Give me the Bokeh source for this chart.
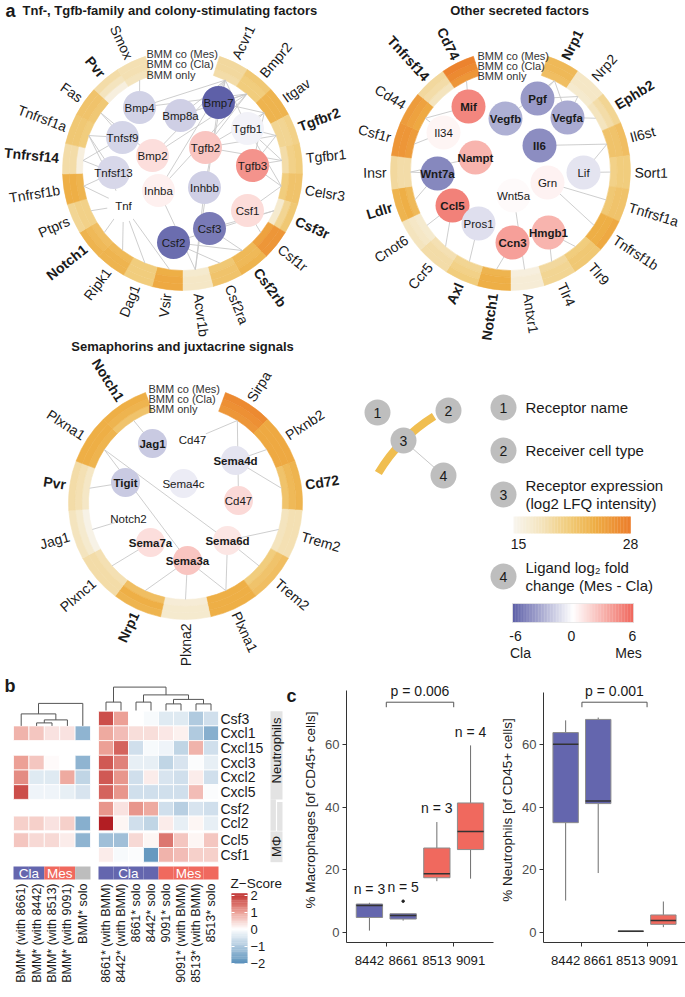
import numpy as np
from bokeh.plotting import figure
from bokeh.layouts import row, column
from bokeh.models import Range1d, FixedTicker
from bokeh.embed import file_html
from bokeh.resources import INLINE
from bokeh.core.properties import value

S = 1.0
FONT = "Liberation Sans"
INK = "#1a1a1a"

# ---------------------------------------------------------------- data: panel a
rec1 = ["Acvr1", "Bmpr2", "Itgav", "Tgfbr2", "Tgfbr1", "Celsr3", "Csf3r", "Csf1r", "Csf2rb", "Csf2ra", "Acvr1b",
        "Vsir", "Dag1", "Ripk1", "Notch1", "Ptprs", "Tnfrsf1b", "Tnfrsf14", "Tnfrsf1a", "Fas", "Pvr", "Smox"]
rec1_bold = ["Tgfbr2", "Csf3r", "Csf2rb", "Notch1", "Tnfrsf14", "Pvr"]
rec1_mes = [19.5, 21.5, 23.5, 20.5, 21, 22, 21.5, 26, 23.5, 22, 17.5, 24.5, 21, 23.5, 23.5, 20, 24, 19, 21.5, 22, 19, 18.5]
rec1_cla = [19.5, 21, 23.5, 20, 20.5, 22, 20, 26, 23, 22, 17.5, 24.5, 21, 23.5, 23, 20.5, 24, 19, 21.5, 22, 18, 18.5]
rec1_only = [19, 21, 23.5, 20, 19, 21, 17, 25, 23, 21.5, 17, 24, 21, 23, 22.5, 20.5, 23.5, 16, 21, 21.5, 16, 18]
lig1 = ["Bmp4", "Bmp8a", "Bmp7", "Tgfb1", "Tnfsf9", "Bmp2", "Tgfb2", "Tgfb3", "Tnfsf13", "Inhba", "Inhbb", "Tnf",
        "Csf1", "Csf3", "Csf2"]
lig1_x = [-43, -2, 36, 65, -60, -30, 23, 70, -69, -24, 22, -59, 65, 27, -9]
lig1_y = [63, 55, 68, 42, 33, 15, 23, 5, -2, -20, -17, -35, -40, -58, -72]
lig1_lfc = [-1.7, -1.8, -6.0, -0.5, -1.6, 1.3, 2.3, 4.3, -1.5, 0.6, -1.8, 0.0, 1.4, -5.0, -5.5]
lig1_bold = []
edges1 = [("Bmp4", "Bmpr2"), ("Bmp4", "Acvr1"), ("Bmp4", "Smox"), ("Bmp8a", "Bmpr2"), ("Bmp8a", "Acvr1"),
          ("Bmp7", "Bmpr2"), ("Bmp7", "Acvr1"), ("Bmp7", "Acvr1b"), ("Bmp7", "Itgav"), ("Bmp2", "Bmpr2"),
          ("Bmp2", "Acvr1"), ("Bmp2", "Fas"), ("Tgfb1", "Tgfbr1"), ("Tgfb1", "Tgfbr2"), ("Tgfb1", "Itgav"),
          ("Tgfb1", "Celsr3"), ("Tgfb1", "Acvr1"), ("Tgfb2", "Tgfbr1"), ("Tgfb2", "Tgfbr2"), ("Tgfb2", "Itgav"),
          ("Tgfb2", "Bmpr2"), ("Tgfb3", "Tgfbr1"), ("Tgfb3", "Tgfbr2"), ("Tgfb3", "Itgav"), ("Tgfb3", "Celsr3"),
          ("Tnfsf9", "Tnfrsf1a"), ("Tnfsf9", "Tnfrsf14"), ("Tnfsf9", "Fas"), ("Tnfsf13", "Tnfrsf1b"),
          ("Tnfsf13", "Tnfrsf14"), ("Tnfsf13", "Tnfrsf1a"), ("Inhba", "Acvr1b"), ("Inhba", "Acvr1"),
          ("Inhba", "Bmpr2"), ("Inhbb", "Acvr1b"), ("Inhbb", "Acvr1"), ("Tnf", "Tnfrsf1a"), ("Tnf", "Tnfrsf1b"),
          ("Tnf", "Ptprs"), ("Tnf", "Notch1"), ("Tnf", "Ripk1"), ("Tnf", "Dag1"), ("Tnf", "Vsir"),
          ("Csf1", "Csf1r"), ("Csf1", "Celsr3"), ("Csf3", "Csf3r"), ("Csf3", "Csf2rb"), ("Csf2", "Csf2ra"),
          ("Csf2", "Csf2rb"), ("Csf2", "Csf3r")]

rec2 = ["Nrp1", "Nrp2", "Ephb2", "Il6st", "Sort1", "Tnfrsf1a", "Tnfrsf1b", "Tlr9", "Tlr4", "Antxr1", "Notch1", "Axl",
        "Ccr5", "Cnot6", "Ldlr", "Insr", "Csf1r", "Cd44", "Tnfrsf14", "Cd74"]
rec2_bold = ["Nrp1", "Ephb2", "Notch1", "Axl", "Ldlr", "Tnfrsf14", "Cd74"]
rec2_mes = [23, 17.5, 20, 22.5, 21, 22, 24.5, 21.5, 20, 16.5, 24, 21, 19, 18, 23.5, 19.5, 26, 25.5, 19.5, 27.5]
rec2_cla = [23, 17.5, 19, 22, 21, 22, 24, 21.5, 20, 16.5, 24, 20.5, 19, 17.5, 24, 19, 26, 25, 19, 27]
rec2_only = [22.5, 17, 18, 22, 20.5, 21.5, 24, 21, 19.5, 16, 23.5, 20, 18.5, 17, 23, 19, 25.5, 24.5, 18, 26]
lig2 = ["Mif", "Vegfb", "Pgf", "Vegfa", "Il34", "Nampt", "Il6", "Lif", "Wnt7a", "Grn", "Wnt5a", "Ccl5", "Pros1",
        "Hmgb1", "Ccn3"]
lig2_x = [-42, -5, 27, 57, -67, -35, 29, 73, -73, 37, 3, -58, -32, 38, 2]
lig2_y = [64, 52, 72, 53, 38, 13, 25, -2, -3, -12, -25, -35, -53, -62, -72]
lig2_lfc = [4.8, -3.0, -3.8, -3.2, 0.4, 3.0, -4.3, -1.0, -4.5, 0.5, 0.2, 5.0, -1.2, 3.0, 3.8]
lig2_bold = ["Mif", "Vegfb", "Pgf", "Vegfa", "Nampt", "Il6", "Wnt7a", "Ccl5", "Hmgb1", "Ccn3"]
edges2 = [("Mif", "Cd74"), ("Mif", "Cd44"), ("Vegfb", "Nrp1"), ("Pgf", "Nrp1"), ("Pgf", "Nrp2"), ("Vegfa", "Nrp1"),
          ("Vegfa", "Nrp2"), ("Vegfa", "Ephb2"), ("Il34", "Csf1r"), ("Il34", "Cd44"), ("Nampt", "Insr"),
          ("Il6", "Il6st"), ("Lif", "Il6st"), ("Lif", "Sort1"), ("Wnt7a", "Ldlr"), ("Wnt7a", "Insr"),
          ("Grn", "Tnfrsf1a"), ("Grn", "Tnfrsf1b"), ("Wnt5a", "Antxr1"), ("Ccl5", "Ccr5"), ("Ccl5", "Cnot6"),
          ("Pros1", "Axl"), ("Hmgb1", "Tlr4"), ("Hmgb1", "Tlr9"), ("Ccn3", "Notch1")]

rec3 = ["Sirpa", "Plxnb2", "Cd72", "Trem2", "Trem2", "Plxna1", "Plxna2", "Nrp1", "Plxnc1", "Jag1", "Pvr", "Plxna1",
        "Notch1"]
rec3_bold = ["Cd72", "Nrp1", "Pvr", "Notch1"]
rec3_mes = [27, 24.5, 23.5, 18.5, 22.5, 24, 17, 23.5, 19, 18, 19, 24, 24]
rec3_cla = [26.5, 24.5, 23, 18.5, 22, 24, 17, 24, 19, 17, 18.5, 24, 23.5]
rec3_only = [26, 24.5, 22, 18, 21, 24, 16.5, 22.5, 18.5, 15.5, 17.5, 23.5, 22]
lig3 = ["Jag1", "Cd47", "Sema4d", "Tigit", "Sema4c", "Cd47", "Notch2", "Sema7a", "Sema6d", "Sema3a"]
lig3_x = [-33, 7, 50, -60, -2, 53, -57, -35, 42, 2]
lig3_y = [59, 63, 42, 20, 19, 2, -16, -40, -38, -58]
lig3_lfc = [-2.0, 0.0, -1.0, -2.0, -0.7, 1.5, 0.0, 1.3, 1.0, 2.3]
lig3_bold = ["Jag1", "Sema4d", "Tigit", "Sema7a", "Sema6d", "Sema3a"]
edges3 = [(0, 12), (1, 0), (2, 1), (2, 2), (3, 10), (5, 0), (6, 9), (7, 8), (9, 7), (9, 6), (9, 5), (9, 11),
          (8, 5), (8, 4), (8, 3), (8, 11)]

# ---------------------------------------------------------------- data: panel b
hm_rows = ["Csf3", "Cxcl1", "Cxcl15", "Cxcl3", "Cxcl2", "Cxcl5", "Csf2", "Ccl2", "Ccl5", "Csf1"]
left_cols = ["BMM* (with 8661)", "BMM* (with 8442)", "BMM* (with 8513)", "BMM* (with 9091)", "BMM* solo"]
left_groups = ["Cla", "Cla", "Mes", "Mes", "solo"]
left_rows = ["Cxcl1", "Cxcl3", "Cxcl2", "Cxcl5", "Ccl2", "Ccl5"]
left_vals = [[0.8, 0.6, 0.3, 0.3, -1.4],
             [1.0, 0.6, 0.05, 0.0, -1.4],
             [1.2, -0.4, -0.4, 0.9, -0.8],
             [1.8, -0.2, -0.2, -0.3, -0.5],
             [0.5, 0.5, 0.3, 0.5, -1.5],
             [0.6, 0.4, 0.4, 0.2, -1.4]]
right_cols = ["8661* (with BMM)", "8442* (with BMM)", "8661* solo", "8442* solo", "9091* solo", "9091* (with BMM)",
              "8513* (with BMM)", "8513* solo"]
right_groups = ["Cla"] * 4 + ["Mes"] * 4
right_vals = [[1.8, 1.0, 0.0, -0.1, -0.4, -0.4, -1.0, -0.6],
              [0.9, 0.7, 0.35, 0.35, 0.25, 0.15, -1.0, -1.5],
              [1.0, 1.6, -0.6, -0.1, -0.2, -0.8, 0.8, -0.6],
              [1.7, 1.3, -0.3, -0.3, -0.8, -0.5, -0.05, -0.3],
              [1.7, 1.1, -0.6, 0.2, -0.5, -0.6, 0.2, -0.6],
              [1.6, 1.1, -0.6, -0.6, -0.6, -0.6, 0.7, -0.05],
              [1.1, 0.3, 1.1, 0.9, -0.6, -0.9, -0.5, -0.6],
              [2.3, 0.1, -0.6, -0.8, 0.2, -0.3, 0.1, -0.3],
              [-1.2, -1.2, 0.4, 0.1, 1.4, 0.6, 0.1, 0.6],
              [0.2, -0.1, -0.05, -1.9, 0.8, 0.7, 0.5, 0.5]]
left_merges = [(1, 2, 1.0), (5, 3, 2.0), (0, 6, 4.0), (7, 4, 7.5)]
right_merges = [(0, 1, 2.8), (2, 3, 2.8), (4, 5, 2.2), (6, 7, 2.2), (10, 11, 3.7), (9, 12, 5.2), (8, 13, 7.8)]
neutro_rows = ["Csf3", "Cxcl1", "Cxcl15", "Cxcl3", "Cxcl2", "Cxcl5", "Csf2", "Ccl2"]
macro_rows = ["Csf2", "Ccl2", "Ccl5", "Csf1"]

# ---------------------------------------------------------------- data: panel c
strains = ["8442", "8661", "8513", "9091"]
strain_group = ["Cla", "Cla", "Mes", "Mes"]
mac_lo = [0.6, 3.8, 16.4, 17.2]
mac_q1 = [4.8, 4.3, 17.5, 26.5]
mac_med = [8.6, 5.4, 18.8, 32.3]
mac_q3 = [9.1, 6.0, 27.0, 41.4]
mac_hi = [9.5, 6.0, 35.3, 59.8]
mac_out = [[], [10.0], [], []]
mac_n = [3, 5, 3, 4]
neu_lo = [10.2, 19.0, 0.3, 1.7]
neu_q1 = [35.1, 41.2, 0.3, 2.6]
neu_med = [60.2, 42.0, 0.4, 3.8]
neu_q3 = [63.9, 68.1, 0.5, 5.6]
neu_hi = [67.8, 68.7, 0.5, 9.9]
mac_p = "p = 0.006"
neu_p = "p = 0.001"

# ---------------------------------------------------------------- helpers
GROUP_COL = {"Cla": "#6466ae", "Mes": "#f0695e", "solo": "#bdbdbd"}


def fs(px):
    return f"{px * S:.2f}px"


def hexcol(rgb):
    return "#%02x%02x%02x" % tuple(int(round(c)) for c in rgb)


def ramp(v, stops):
    vs = [s[0] for s in stops]
    return hexcol([np.interp(v, vs, [s[1][c] for s in stops]) for c in range(3)])


LFQ_STOPS = [(15, (248, 245, 238)), (18, (244, 228, 190)), (21, (241, 205, 125)), (24, (238, 175, 70)),
             (28, (236, 125, 42))]
LFC_STOPS = [(-6, (94, 96, 168)), (0, (255, 255, 255)), (6, (240, 104, 94))]
Z_STOPS = [(-2.3, (75, 130, 180)), (-2, (94, 148, 189)), (-1, (176, 202, 223)), (0, (255, 255, 255)),
           (1, (236, 160, 150)), (2, (196, 58, 55)), (2.3, (178, 30, 35))]


def txt(p, xs, ys, texts, size, align="center", baseline="middle", angle=0.0, bold=False, color=INK):
    xs, ys, texts = list(xs), list(ys), list(texts)
    if len(xs) == 0:
        return
    ang = angle if np.isscalar(angle) else list(angle)
    p.text(x=xs, y=ys, text=texts, angle=ang, angle_units="deg", text_align=align, text_baseline=baseline,
           text_font=value(FONT), text_font_size=size, text_font_style="bold" if bold else "normal",
           text_color=color)


def no_align(p):
    try:
        p.frame_align = False
    except Exception:
        pass


def blank(xr, yr, w, h):
    p = figure(width=w, height=h, x_range=Range1d(*xr), y_range=Range1d(*yr), output_backend="svg",
               toolbar_location=None, x_axis_location=None, y_axis_location=None, min_border=0,
               outline_line_color=None)
    p.grid.visible = False
    no_align(p)
    return p


def wedge(p, x, y, r0, r1, a0, a1, cols, lw=0.6, line=True):
    p.annular_wedge(x=x, y=y, inner_radius=r0, outer_radius=r1, start_angle=a0, end_angle=a1,
                    start_angle_units="deg", end_angle_units="deg", fill_color=cols,
                    line_color=cols if line else None, line_width=lw)


def ring_panel(p, r_out, gap, receptors, bold_set, mes, cla, only, lig, lx, ly, lfc, lbold, edges, node_r,
               bmm_x, bmm_y, edge_by_index=False):
    n = len(receptors)
    wd = (360.0 - gap) / n
    hi = np.array([90 - gap / 2 - i * wd for i in range(n)])
    lo = hi - wd
    mid = (hi + lo) / 2
    t = 20.0
    r_in = r_out - t
    bands = [(only, r_in, r_in + t / 3), (cla, r_in + t / 3, r_in + 2 * t / 3), (mes, r_in + 2 * t / 3, r_out)]
    for vals, a, b in bands:
        cols = [ramp(v, LFQ_STOPS) for v in vals]
        wedge(p, 0, 0, a, b, list(lo), list(hi), cols)
    x0, y0, x1, y1 = [], [], [], []
    for a, b in edges:
        li = a if edge_by_index else lig.index(a)
        ri = b if edge_by_index else receptors.index(b)
        x0.append(lx[li]); y0.append(ly[li])
        x1.append(r_in * np.cos(np.radians(mid[ri]))); y1.append(r_in * np.sin(np.radians(mid[ri])))
    p.segment(x0=x0, y0=y0, x1=x1, y1=y1, line_color="#c8c8c8", line_width=0.9)
    p.circle(x=lx, y=ly, radius=node_r, fill_color=[ramp(v, LFC_STOPS) for v in lfc], line_color=None)
    for bold in (False, True):
        idx = [i for i in range(len(lig)) if (lig[i] in lbold) == bold]
        txt(p, [lx[i] for i in idx], [ly[i] for i in idx], [lig[i] for i in idx], fs(11.5), bold=bold)
    r_lab = r_out + 4
    groups = {}
    for i in range(n):
        m = ((mid[i] + 180) % 360) - 180
        if -90 < m < 90:
            ang, al = m, "left"
        else:
            ang, al = (m - 180 if m > 0 else m + 180), "right"
        key = (al, receptors[i] in bold_set)
        g = groups.setdefault(key, ([], [], [], []))
        g[0].append(r_lab * np.cos(np.radians(mid[i])))
        g[1].append(r_lab * np.sin(np.radians(mid[i])))
        g[2].append(receptors[i])
        g[3].append(ang)
    for (al, bold), g in groups.items():
        txt(p, g[0], g[1], g[2], fs(14), align=al, angle=g[3], bold=bold)
    txt(p, [bmm_x] * 3, bmm_y, ["BMM co (Mes)", "BMM co (Cla)", "BMM only"], fs(11), align="left", color="#333333")


# ---------------------------------------------------------------- panel a   (ref rows: 0-340, 340-665, 665-996)
f1 = blank((-182, 168), (-170, 170), 350, 340)
ring_panel(f1, 120, 36, rec1, rec1_bold, rec1_mes, rec1_cla, rec1_only, lig1, lig1_x, lig1_y, lig1_lfc, lig1_bold,
           edges1, 16.5, -36, [117, 107, 96])
txt(f1, [-177], [160], ["a"], fs(18), align="left", bold=True)
txt(f1, [-160], [160], ["Tnf-, Tgfb-family and colony-stimulating factors"], fs(13), align="left", bold=True)

f2 = blank((-160, 175), (-170, 170), 335, 340)
ring_panel(f2, 120, 36, rec2, rec2_bold, rec2_mes, rec2_cla, rec2_only, lig2, lig2_x, lig2_y, lig2_lfc, lig2_bold,
           edges2, 17, -33, [115, 105, 95])
txt(f2, [9], [160], ["Other secreted factors"], fs(13), bold=True)

f3 = blank((-185, 165), (-163, 162), 350, 325)
ring_panel(f3, 117, 40, rec3, rec3_bold, rec3_mes, rec3_cla, rec3_only, lig3, lig3_x, lig3_y, lig3_lfc, lig3_bold,
           edges3, 14.5, -37, [114, 104, 94], edge_by_index=True)
txt(f3, [-3], [156], ["Semaphorins and juxtacrine signals"], fs(13), bold=True)

# legend panel
fl = blank((350, 685), (-665, -340), 335, 325)
wedge(fl, 523.6, -560, 166, 174, 122, 149, "#f0be50", line=False)
ex_x = [377, 448, 403, 443]
ex_y = [-412, -410, -440, -475]
fl.segment(x0=[ex_x[2]], y0=[ex_y[2]], x1=[ex_x[3]], y1=[ex_y[3]], line_color="#c8c8c8", line_width=1)
fl.circle(x=ex_x, y=ex_y, radius=13, fill_color="#bebebe", line_color=None)
txt(fl, ex_x, ex_y, ["1", "2", "3", "4"], fs(14))
leg_y = [-407, -450, -494, -576]
fl.circle(x=[503] * 4, y=leg_y, radius=13, fill_color="#bebebe", line_color=None)
txt(fl, [503] * 4, leg_y, ["1", "2", "3", "4"], fs(14))
txt(fl, [525] * 6, [-407, -450, -485, -503, -567, -585],
    ["Receptor name", "Receiver cell type", "Receptor expression", "(log2 LFQ intensity)",
     "Ligand log\u2082 fold", "change (Mes - Cla)"], fs(15), align="left")
g = np.linspace(15, 28, 80)
edges_x = np.linspace(513, 630, 81)
fl.quad(left=edges_x[:-1], right=edges_x[1:] + 0.3, bottom=-533, top=-516,
        fill_color=[ramp(v, LFQ_STOPS) for v in g], line_color=None)
txt(fl, [518, 630], [-543, -543], ["15", "28"], fs(14))
g2 = np.linspace(-6, 6, 80)
edges_x2 = np.linspace(512, 633, 81)
fl.quad(left=edges_x2[:-1], right=edges_x2[1:] + 0.3, bottom=-622, top=-603,
        fill_color=[ramp(v, LFC_STOPS) for v in g2], line_color=None)
fl.quad(left=[512], right=[633], bottom=[-622], top=[-603], fill_color=None, line_color="#e4e4e4", line_width=0.8)
txt(fl, [515, 571, 632], [-635] * 3, ["-6", "0", "6"], fs(14))
txt(fl, [520, 628], [-652] * 2, ["Cla", "Mes"], fs(14))

# ---------------------------------------------------------------- panel b
fb = blank((0, 300), (-996, -665), 300, 331)
ROW_H = 14.7
row_top = [710.7 + ROW_H * k + 2 * (k > 5) + 2 * (k > 7) for k in range(len(hm_rows))]
row_mid = {r: row_top[k] + ROW_H / 2 for k, r in enumerate(hm_rows)}
LW, L0 = 15.4, 13.0
RW, R0 = 15.0, 98.0
lx_c = [L0 + LW * (i + 0.5) for i in range(len(left_cols))]
rx_c = [R0 + RW * (i + 0.5) for i in range(len(right_cols))]

cx, cy, cc = [], [], []
for k, r in enumerate(left_rows):
    for i, v in enumerate(left_vals[k]):
        cx.append(lx_c[i]); cy.append(-row_mid[r]); cc.append(ramp(v, Z_STOPS))
fb.rect(x=cx, y=cy, width=LW, height=ROW_H, fill_color=cc, line_color="white", line_width=0.8)
cx, cy, cc = [], [], []
for k, r in enumerate(hm_rows):
    for i, v in enumerate(right_vals[k]):
        cx.append(rx_c[i]); cy.append(-row_mid[r]); cc.append(ramp(v, Z_STOPS))
fb.rect(x=cx, y=cy, width=RW, height=ROW_H, fill_color=cc, line_color="white", line_width=0.8)
txt(fb, [220] * len(hm_rows), [-row_mid[r] for r in hm_rows], hm_rows, fs(14), align="left")


def dendro(p, leaf_x, base_y, merges, scale):
    xs = list(leaf_x)
    hs = [0.0] * len(leaf_x)
    x0, y0, x1, y1 = [], [], [], []
    for a, b, h in merges:
        for c in (a, b):
            x0.append(xs[c]); y0.append(hs[c]); x1.append(xs[c]); y1.append(h)
        x0.append(xs[a]); y0.append(h); x1.append(xs[b]); y1.append(h)
        xs.append((xs[a] + xs[b]) / 2)
        hs.append(h)
    p.segment(x0=x0, y0=[-(base_y - v * scale) for v in y0], x1=x1, y1=[-(base_y - v * scale) for v in y1],
              line_color="#555555", line_width=1)


dendro(fb, lx_c, row_top[1], left_merges, 3.0)
dendro(fb, rx_c, 710.0, right_merges, 3.0)

GB_T, GB_B = 866, 879
fb.quad(left=[x - LW / 2 for x in lx_c], right=[x + LW / 2 for x in lx_c], top=-GB_T, bottom=-GB_B,
        fill_color=[GROUP_COL[gp] for gp in left_groups], line_color=None)
fb.quad(left=[x - RW / 2 for x in rx_c], right=[x + RW / 2 for x in rx_c], top=-GB_T, bottom=-GB_B,
        fill_color=[GROUP_COL[gp] for gp in right_groups], line_color=None)
for xc, grp in ((lx_c, left_groups), (rx_c, right_groups)):
    for name in ("Cla", "Mes"):
        xs_g = [xc[i] for i in range(len(grp)) if grp[i] == name]
        txt(fb, [np.mean(xs_g)], [-(GB_T + GB_B) / 2 - 0.5], [name], fs(13.5), color="white")
txt(fb, lx_c, [-883] * len(lx_c), left_cols, fs(12.5), align="right", angle=90)
txt(fb, rx_c, [-883] * len(rx_c), right_cols, fs(12.5), align="right", angle=90)
SB0, SB1, SBM = 270, 282, 276
n_last = row_top[hm_rows.index(neutro_rows[-1])] + ROW_H
m_first = row_top[hm_rows.index(macro_rows[0])]
last_full_n = row_top[hm_rows.index("Cxcl5")] + ROW_H
fb.quad(left=[SB0, SB0, SBM + 0.6, SB0], right=[SB1, SBM - 0.6, SB1, SB1],
        top=[-row_top[0], -last_full_n, -(m_first + 0.6), -(n_last + 0.6)],
        bottom=[-last_full_n, -n_last, -n_last, -(row_top[-1] + ROW_H)],
        fill_color="#e3e3e3", line_color=None)
txt(fb, [SBM], [-750], ["Neutrophils"], fs(13), angle=90)
txt(fb, [SBM], [-846], ["M\u03a6"], fs(13), angle=90)
txt(fb, [230], [-883], ["Z\u2212Score"], fs(13.5), align="left")
zv = np.linspace(-2.05, 2.1, 60)
zy = np.linspace(963, 893, 61)
fb.quad(left=231, right=247, bottom=[-v for v in zy[:-1]], top=[-v + 0.3 for v in zy[1:]],
        fill_color=[ramp(v, Z_STOPS) for v in zv], line_color=None)
zt = [2, 1, 0, -1, -2]
txt(fb, [250] * 5, [-(929 - v * 17) for v in zt], ["2", "1", "0", "\u22121", "\u22122"], fs(13), align="left")
fb.segment(x0=[231] * 5 + [244] * 5, x1=[234] * 5 + [247] * 5, y0=[-(929 - v * 17) for v in zt] * 2,
           y1=[-(929 - v * 17) for v in zt] * 2, line_color="white", line_width=1)
txt(fb, [4], [-685], ["b"], fs(18), align="left", bold=True)
txt(fb, [286], [-695], ["c"], fs(18), align="left", bold=True)


# ---------------------------------------------------------------- panel c
Y_TOP = 81.5   # room above the axis for the p-value text


def boxplot(w, mb_left, mb_right, ax_top, ylabel, lo, q1, med, q3, hi, outl, nlab, ptxt):
    top_px = 932 - Y_TOP * 3.125
    p = figure(width=w, height=331, x_range=Range1d(0.32, 4.68), y_range=Range1d(-3.2, Y_TOP),
               output_backend="svg", toolbar_location=None, min_border_left=mb_left, min_border_right=mb_right,
               min_border_top=int(round((top_px - 665) * S)), min_border_bottom=54, outline_line_color=None)
    no_align(p)
    p.grid.visible = False
    xs = list(range(1, len(strains) + 1))
    cols = [GROUP_COL[gp] for gp in strain_group]
    p.segment(x0=xs, x1=xs, y0=q3, y1=hi, line_color="#6e6e6e", line_width=1)
    p.segment(x0=xs, x1=xs, y0=lo, y1=q1, line_color="#6e6e6e", line_width=1)
    p.vbar(x=xs, width=0.78, bottom=q1, top=q3, fill_color=cols, line_color="#8c8c8c", line_width=1)
    p.segment(x0=[x - 0.39 for x in xs], x1=[x + 0.39 for x in xs], y0=med, y1=med, line_color="#333333",
              line_width=1.5)
    ox = [xs[i] for i in range(len(xs)) for _ in outl[i]]
    oy = [v for i in range(len(xs)) for v in outl[i]]
    if ox:
        p.scatter(x=ox, y=oy, size=2.5, color="#222222")
    if nlab is not None:
        top_pt = [max([hi[i]] + outl[i]) for i in range(len(xs))]
        txt(p, xs, [t + 4.4 for t in top_pt], [f"n = {n}" for n in nlab], fs(14))
    gx = [float(np.mean([xs[i] for i in range(len(xs)) if strain_group[i] == gname])) for gname in ("Cla", "Mes")]
    p.segment(x0=[gx[0], gx[0], gx[1]], x1=[gx[1], gx[0], gx[1]], y0=[73.6, 73.6, 73.6], y1=[73.6, 72.0, 72.0],
              line_color="#555555", line_width=1)
    txt(p, [float(np.mean(gx))], [77.1], [ptxt], fs(14))
    p.xaxis.ticker = FixedTicker(ticks=xs, minor_ticks=gx)
    p.xaxis.major_label_overrides = {x: s for x, s in zip(xs, strains)}
    p.xaxis.major_tick_line_color = None
    p.xaxis.minor_tick_out = 4
    p.xaxis.minor_tick_in = 0
    p.xaxis.minor_tick_line_color = "#333333"
    p.xaxis.major_label_text_font_size = fs(13.2)
    p.xaxis.major_label_text_color = INK
    p.xaxis.major_label_standoff = 7
    p.yaxis.ticker = FixedTicker(ticks=[0, 20, 40, 60], minor_ticks=[])
    p.yaxis.bounds = (-3.2, ax_top)
    p.yaxis.major_label_text_font_size = fs(13)
    p.yaxis.major_label_text_color = "#4d4d4d"
    p.yaxis.major_tick_out = 4
    p.yaxis.major_tick_in = 0
    p.yaxis.major_label_standoff = 3
    p.yaxis.axis_label = ylabel
    p.yaxis.axis_label_text_font_size = fs(13.5)
    p.yaxis.axis_label_text_font_style = "normal"
    p.yaxis.axis_label_text_color = INK
    p.yaxis.axis_label_standoff = 4
    for ax in (p.xaxis, p.yaxis):
        ax.axis_line_color = "#333333"
        ax.major_label_text_font = FONT
        ax.axis_label_text_font = FONT
    p.yaxis.major_tick_line_color = "#333333"
    return p


fc1 = boxplot(197, 45, 4, 77.4, "% Macrophages [of CD45+ cells]", mac_lo, mac_q1, mac_med, mac_q3, mac_hi,
              mac_out, mac_n, mac_p)
fc2 = boxplot(188, 40, 0, 76.8, "% Neutrophils [of CD45+ cells]", neu_lo, neu_q1, neu_med, neu_q3, neu_hi,
              [[], [], [], []], None, neu_p)

layout = column(row(f1, f2), row(f3, fl), row(fb, fc1, fc2))
open("out.html", "w").write(file_html(layout, INLINE))
